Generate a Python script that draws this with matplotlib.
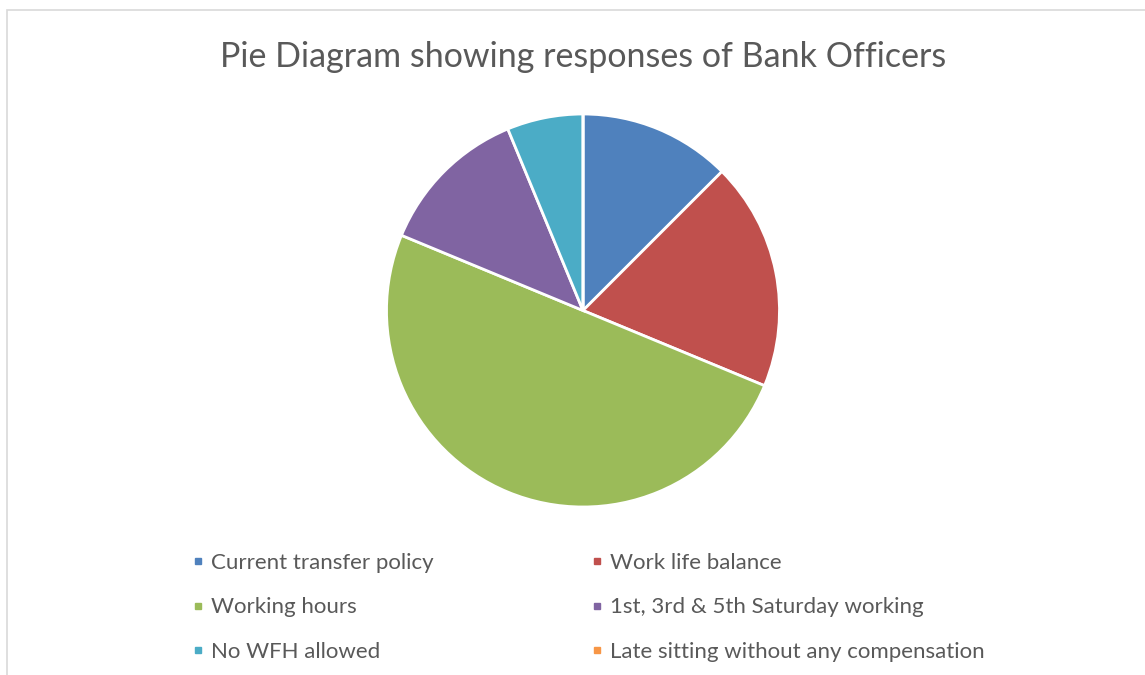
import matplotlib.pyplot as plt
from matplotlib.lines import Line2D
from matplotlib.patches import Rectangle

plt.rcParams['font.family'] = ['Lato', 'DejaVu Sans']

categories = ['Current transfer policy', 'Work life balance', 'Working hours',
              '1st, 3rd & 5th Saturday working', 'No WFH allowed',
              'Late sitting without any compensation']
responses = [2, 3, 8, 2, 1, 0]
colors = ['#4F81BD', '#C0504D', '#9BBB59', '#8064A2', '#4BACC6', '#F79646']
text_col = '#595959'

fig = plt.figure(figsize=(11.45, 6.75), dpi=100)

# chart area border (only top and left visible in the crop)
fig.patches.append(Rectangle((7 / 1145, -0.1), 1.2, 0.1 + 1 - 10 / 675,
                             transform=fig.transFigure, fill=False,
                             edgecolor='#d9d9d9', linewidth=1.2))

ax = fig.add_axes([386.5 / 1145, 168 / 675, 393 / 1145, 393 / 675])
ax.pie(responses, colors=colors, startangle=90, counterclock=False,
       wedgeprops=dict(edgecolor='white', linewidth=2))
ax.set_xlim(-1, 1)
ax.set_ylim(-1, 1)
ax.set_aspect('equal')

fig.text(583 / 1145, 1 - 57 / 675, 'Pie Diagram showing responses of Bank Officers',
         ha='center', va='center', fontsize=24.5, color=text_col)

# legend laid out row by row, like the original
handles = [Line2D([], [], marker='s', linestyle='none', markersize=5,
                  color=c, label=l) for c, l in zip(colors, categories)]
order = [0, 2, 4, 1, 3, 5]
leg = fig.legend([handles[i] for i in order], [categories[i] for i in order],
                 ncol=2, loc='upper left', bbox_to_anchor=(191 / 1145, 1 - 553 / 675),
                 frameon=False, fontsize=16, labelcolor=text_col,
                 handlelength=0.6, handletextpad=0.31, labelspacing=1.1,
                 columnspacing=7.02, borderaxespad=0, borderpad=0)

fig.savefig('out.png', dpi=100)
